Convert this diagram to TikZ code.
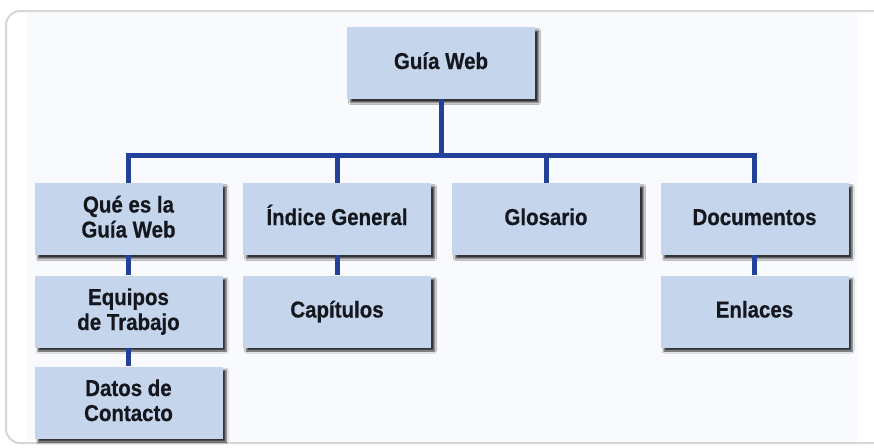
\documentclass[tikz,border=0pt]{standalone}
\usepackage{fontspec}
\setmainfont{Liberation Sans}[FakeStretch=0.89, FakeBold=0.6]
\usetikzlibrary{shadows.blur}
\definecolor{boxfill}{HTML}{C5D5EB}
\definecolor{linecol}{HTML}{22419A}
\definecolor{txtcol}{HTML}{15171F}
\definecolor{framecol}{HTML}{D6D6D6}
\definecolor{panelcol}{HTML}{F9FAFD}
\begin{document}
\begin{tikzpicture}[x=1pt,y=-1pt,
  orgbox/.style={fill=boxfill, minimum width=188pt, minimum height=72pt, inner sep=0pt,
    align=center, text=txtcol, font=\fontsize{23}{25}\selectfont\bfseries,
    text height=16.5pt, text depth=4.5pt,
    blur shadow={shadow xshift=3.5pt, shadow yshift=-3.5pt, shadow blur radius=2pt, shadow opacity=80}},
  twoline/.style={text height=41.5pt, text depth=4.5pt},
  conn/.style={draw=linecol, line width=5pt}]
\useasboundingbox (0,0) rectangle (874,447);
\draw[framecol, line width=2pt, fill=white, rounded corners=14pt] (6,11) rectangle (900,443);
\fill[panelcol] (27,13) rectangle (858,442);
% nodes
\node[orgbox] (gw) at (441,63) {Guía Web};
\node[orgbox, twoline] (q) at (128.5,219) {Qué es la\\Guía Web};
\node[orgbox] (ig) at (337,219) {Índice General};
\node[orgbox] (gl) at (546,219) {Glosario};
\node[orgbox] (doc) at (754.5,219) {Documentos};
\node[orgbox, twoline] (eq) at (128.5,311.5) {Equipos\\de Trabajo};
\node[orgbox] (cap) at (337,311.5) {Capítulos};
\node[orgbox] (enl) at (754.5,311.5) {Enlaces};
\node[orgbox, twoline] (dat) at (128.5,402.5) {Datos de\\Contacto};
% connectors
\coordinate (bus) at (441,155.5);
\draw[conn] (gw.south) -- (bus);
\draw[conn] (q.north) |- (bus) -| (doc.north);
\draw[conn] (ig.north) -- (ig.north |- bus);
\draw[conn] (gl.north) -- (gl.north |- bus);
\draw[conn] (q.south) -- (eq.north);
\draw[conn] (eq.south) -- (dat.north);
\draw[conn] (ig.south) -- (cap.north);
\draw[conn] (doc.south) -- (enl.north);
\end{tikzpicture}
\end{document}
